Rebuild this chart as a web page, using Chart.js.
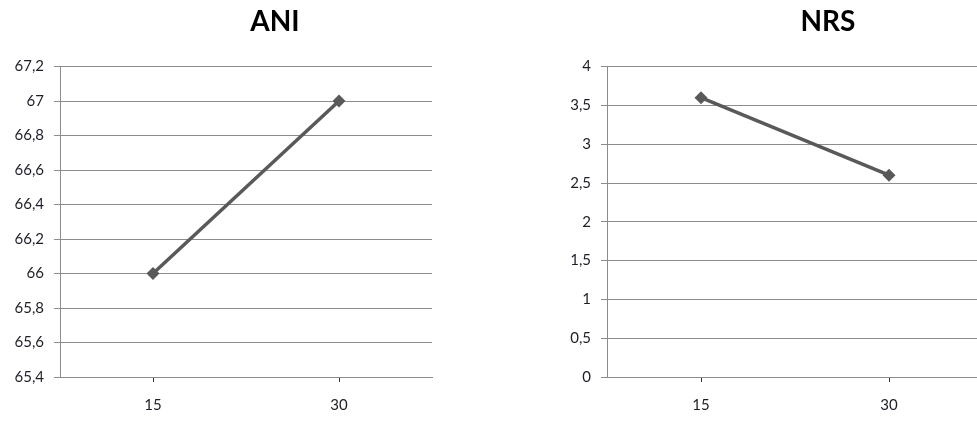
<!DOCTYPE html>
<html>
<head>
<meta charset="utf-8">
<script src="https://cdn.jsdelivr.net/npm/chart.js@4"></script>
<style>
  html, body { margin: 0; padding: 0; background: #fff; overflow: hidden; }
  body { width: 977px; height: 421px; position: relative; }
  .box { position: absolute; top: 0; height: 421px; }
  #boxAni { left: 0; width: 550px; }
  #boxNrs { left: 547px; width: 562px; }
</style>
</head>
<body>
<div class="box" id="boxAni"><canvas id="ani"></canvas></div>
<div class="box" id="boxNrs"><canvas id="nrs"></canvas></div>
<script>
// Measurement times and the two scores
const categories = ['15', '30'];
const aniValues = [66, 67];
const nrsValues = [3.6, 2.6];

const LINE = '#595959';
const GRID = '#8c8c8c';
const TEXT = '#1e1e28';
const FONT = 'Lato, "Open Sans", sans-serif';

const fmt = v => String(parseFloat(Number(v).toFixed(1))).replace('.', ',');

function makeChart(id, title, values, yMin, yMax, step, rightSpace) {
  return new Chart(document.getElementById(id), {
    type: 'line',
    data: {
      labels: categories,
      datasets: [{
        data: values,
        yAxisID: 'y',
        borderColor: LINE,
        backgroundColor: LINE,
        borderWidth: 3.5,
        pointStyle: 'rectRot',
        pointRadius: 6.5,
        pointHoverRadius: 6.5,
        pointBackgroundColor: LINE,
        pointBorderColor: LINE,
        pointBorderWidth: 0,
        tension: 0
      }]
    },
    options: {
      responsive: true,
      maintainAspectRatio: false,
      animation: false,
      events: [],
      layout: { padding: { left: 0, right: 0, top: 0, bottom: 6 } },
      plugins: {
        legend: { display: false },
        tooltip: { enabled: false },
        title: {
          display: true,
          text: title,
          color: '#000',
          font: { family: FONT, size: 28, weight: 'bold', lineHeight: 1.2 },
          padding: { top: 5, bottom: 28 }
        }
      },
      scales: {
        x: {
          offset: true,
          border: { display: true, color: GRID, width: 1 },
          grid: {
            offset: false,
            drawOnChartArea: false,
            drawTicks: true,
            tickLength: 5,
            tickColor: '#333',
            color: '#333'
          },
          ticks: { color: TEXT, font: { family: FONT, size: 15 }, padding: 14 },
          afterFit: s => { s.height = 38; }
        },
        y: {
          min: yMin,
          max: yMax,
          border: { display: true, color: GRID, width: 1 },
          grid: { color: GRID, lineWidth: 1, tickLength: 6, tickColor: GRID },
          ticks: {
            stepSize: step,
            color: TEXT,
            font: { family: FONT, size: 15 },
            padding: 10,
            callback: v => fmt(v)
          },
          afterFit: s => { s.width = 60; }
        },
        // empty strip to the right of the plot, so the title stays centred on the whole chart
        spacer: {
          type: 'linear',
          position: 'right',
          display: true,
          min: 0,
          max: 1,
          border: { display: false },
          grid: { display: false, drawTicks: false },
          ticks: { display: false },
          afterFit: s => { s.width = rightSpace; }
        }
      }
    }
  });
}

makeChart('ani', 'ANI', aniValues, 65.4, 67.2, 0.2, 118);
makeChart('nrs', 'NRS', nrsValues, 0, 4, 0.5, 126);
</script>
</body>
</html>
